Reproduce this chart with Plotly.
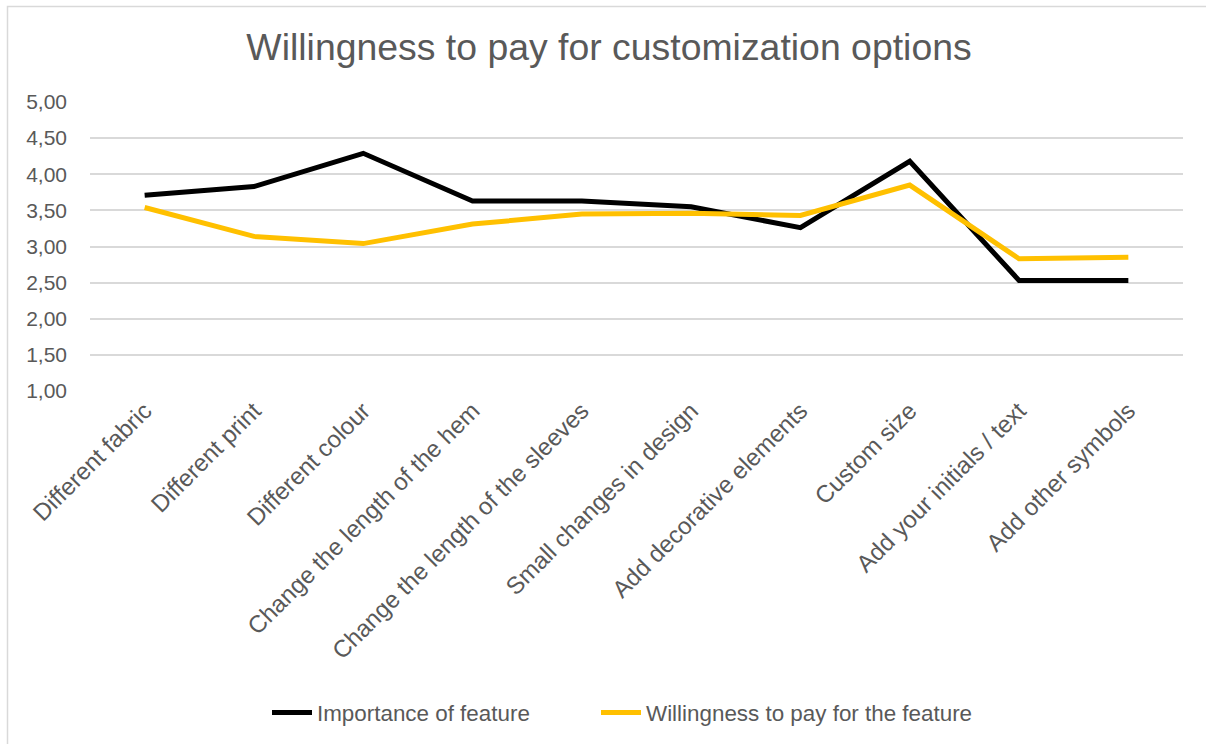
import plotly.graph_objects as go

# Survey results: mean scores per customization option
categories = [
    "Different fabric",
    "Different print",
    "Different colour",
    "Change the length of the hem",
    "Change the length of the sleeves",
    "Small changes in design",
    "Add decorative elements",
    "Custom size",
    "Add your initials / text",
    "Add other symbols",
]
importance = [3.71, 3.83, 4.29, 3.63, 3.63, 3.55, 3.26, 4.18, 2.53, 2.53]
willingness = [3.54, 3.14, 3.04, 3.31, 3.45, 3.46, 3.43, 3.85, 2.83, 2.85]
y_ticks = [1.0, 1.5, 2.0, 2.5, 3.0, 3.5, 4.0, 4.5, 5.0]
y_tick_text = [f"{v:.2f}".replace(".", ",") for v in y_ticks]

W, H = 1206, 744
ML, MR, MT, MB = 90, 23, 102, 353
TEXT = "#595959"
FONT = "Liberation Sans, Arial, sans-serif"

fig = go.Figure()
fig.add_trace(go.Scatter(
    x=categories, y=importance, mode="lines", name="Importance of feature",
    line=dict(color="#000000", width=5), legend="legend",
))
fig.add_trace(go.Scatter(
    x=categories, y=willingness, mode="lines", name="Willingness to pay for the feature",
    line=dict(color="#FFC000", width=5), legend="legend2",
))

# light outer frame of the chart area (left and top edges visible)
pw, ph = W - ML - MR, H - MT - MB
def px_x(x):
    return (x - ML) / pw
def px_y(y):
    return (H - MB - y) / ph
fig.add_shape(
    type="rect", xref="paper", yref="paper",
    x0=px_x(7.5), x1=px_x(W + 10), y0=px_y(H + 10), y1=px_y(6.5),
    line=dict(color="#D9D9D9", width=1.5), fillcolor="rgba(0,0,0,0)", layer="below",
)

legend_style = dict(
    orientation="h", xref="container", xanchor="left",
    y=1 - 713 / H, yref="container", yanchor="middle",
    font=dict(size=22.4, color=TEXT), itemwidth=40,
    bgcolor="rgba(0,0,0,0)",
)

fig.update_layout(
    width=W, height=H,
    margin=dict(l=ML, r=MR, t=MT, b=MB),
    paper_bgcolor="white", plot_bgcolor="white",
    font=dict(family=FONT, color=TEXT, size=21),
    title=dict(
        text="Willingness to pay for customization options",
        font=dict(size=37.4, color=TEXT, family=FONT),
        x=0.505, xref="container", xanchor="center",
        y=1 - 47 / H, yref="container", yanchor="middle",
    ),
    xaxis=dict(
        type="category", range=[-0.5, len(categories) - 0.5],
        showgrid=False, showline=False, zeroline=False, ticks="",
        tickangle=-45, tickfont=dict(size=24, color=TEXT),
    ),
    yaxis=dict(
        range=[1, 5], tickvals=y_ticks, ticktext=y_tick_text,
        showgrid=True, gridcolor="#D9D9D9", gridwidth=1.5,
        zeroline=False, showline=False, ticks="",
        tickfont=dict(size=21, color=TEXT), ticklabelstandoff=22,
    ),
    showlegend=True,
    legend=dict(x=267 / W, **legend_style),
    legend2=dict(x=596 / W, **legend_style),
)

fig.write_html("out.html")
